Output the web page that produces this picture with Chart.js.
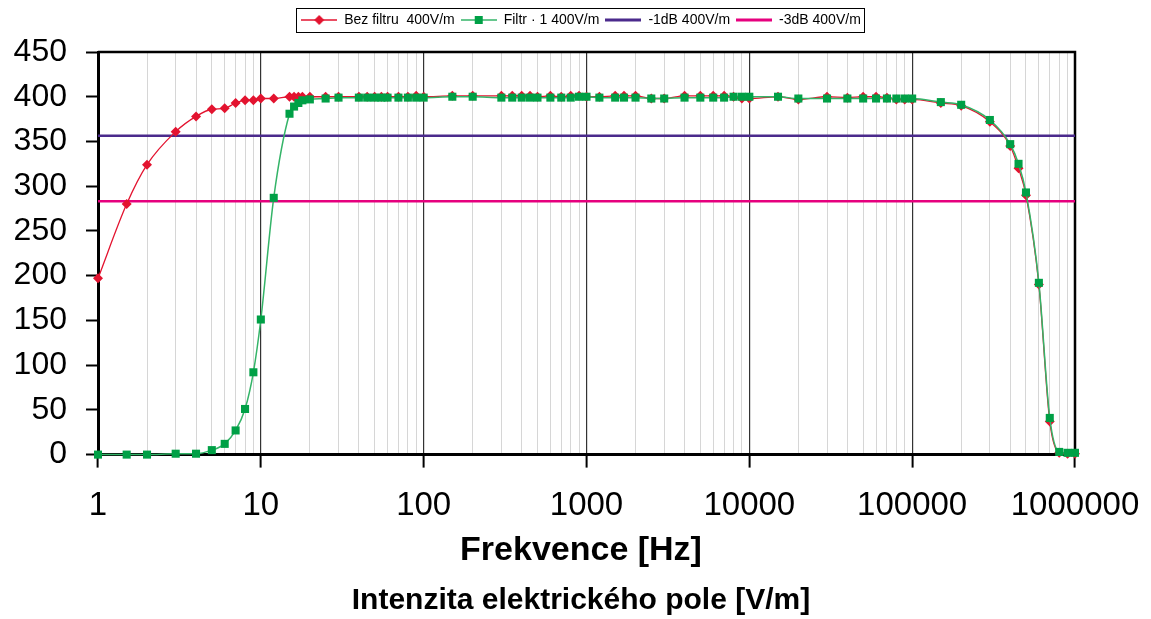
<!DOCTYPE html>
<html>
<head>
<meta charset="utf-8">
<script src="https://cdn.jsdelivr.net/npm/chart.js@4.4.1/dist/chart.umd.min.js"></script>
<style>
   body { margin: 0; background: #fff; }
   #wrap { width: 1151px; height: 619px; }
</style>
</head>
<body>
<div id="wrap"><canvas id="graf"></canvas></div>
<script>
// frekvence [Hz] a namerene hodnoty [V/m]
const freqHz = [1, 1.5, 2, 3, 4, 5, 6, 7, 8, 9, 10, 12, 15, 16, 17, 18, 20, 25, 30, 40, 45, 50, 55, 60, 70, 80, 90, 100,
   150, 200, 300, 350, 400, 450, 500, 600, 700, 800, 900, 1000, 1200, 1500, 1700, 2000, 2500, 3000, 4000, 5000, 6000,
   7000, 8000, 9000, 10000, 15000, 20000, 30000, 40000, 50000, 60000, 70000, 80000, 90000, 100000, 150000, 200000,
   300000, 400000, 450000, 500000, 600000, 700000, 800000, 900000, 1000000];
const bezFiltru = [197, 280, 324, 361, 378, 386, 387, 393, 396, 396, 398, 398, 400, 400, 400, 400, 400, 400, 400, 400, 400, 400, 400, 400, 400, 400, 401, 400,
   401, 401, 401, 401, 401, 401, 400, 401, 400, 401, 401, 400, 400, 401, 401, 401, 398, 398, 401, 401, 401,
   401, 400, 398, 398, 400, 397, 400, 399, 400, 400, 399, 397, 397, 397, 393, 390,
   372, 345, 320, 290, 190, 37, 2, 1, 1];
const filtr1 = [0, 0, 0, 1, 1, 5, 12, 27, 51, 92, 151, 287, 381, 389, 393, 396, 397, 398, 399, 399, 399, 399, 399, 399, 399, 399, 399, 399,
   400, 400, 399, 399, 399, 399, 399, 399, 399, 399, 400, 400, 399, 399, 399, 399, 398, 398, 399, 399, 399,
   399, 400, 400, 400, 400, 398, 398, 398, 398, 398, 398, 398, 398, 398, 394, 391,
   374, 347, 325, 293, 192, 41, 3, 2, 2];
const hraniceHz = [1, 1000000];
const minus1dB = [356.5, 356.5];
const minus3dB = [283.2, 283.2];

const decadeTicks = [1, 10, 100, 1000, 10000, 100000, 1000000];
const minorSteps = [2, 3, 4, 5, 6, 7, 8, 9];
const yTicks = [0, 50, 100, 150, 200, 250, 300, 350, 400, 450];

const FONT = "'Liberation Sans', Arial, sans-serif";
const CERVENA = '#e3132f';
const ZELENA = '#00a046';
const ZELENA_CARA = '#34b468';
const FIALOVA = '#4b2a8c';
const RUZOVA = '#e6007e';

function body(xs, ys) {
   return xs.map((x, i) => ({ x: x, y: ys[i] }));
}

function ikona(barva, znacka, barvaZnacky) {
   const c = document.createElement('canvas');
   c.width = 36; c.height = 12;
   const g = c.getContext('2d');
   g.strokeStyle = barva;
   g.lineWidth = znacka ? 1.5 : 3;
   g.beginPath(); g.moveTo(0, 6); g.lineTo(36, 6); g.stroke();
   g.fillStyle = barvaZnacky;
   if (znacka == 'diamond') {
      g.beginPath(); g.moveTo(18, 1); g.lineTo(23, 6); g.lineTo(18, 11); g.lineTo(13, 6); g.closePath(); g.fill();
   }
   if (znacka == 'square') g.fillRect(14, 2, 8, 8);
   return c;
}

const ikony = [
   ikona(CERVENA, 'diamond', CERVENA),
   ikona(ZELENA_CARA, 'square', ZELENA),
   ikona(FIALOVA),
   ikona(RUZOVA)
];

// ramecek kolem grafu a legendy
const ramecek = {
   id: 'ramecek',
   beforeInit(chart) {
      if (chart.legend) {
         const fit = chart.legend.fit;
         chart.legend.fit = function () {
            fit.call(this);
            this.height += 15;
         };
      }
   },
   beforeDatasetsDraw(chart) {
      const a = chart.chartArea;
      const ctx = chart.ctx;
      ctx.save();
      ctx.strokeStyle = '#000';
      ctx.lineWidth = 2.5;
      ctx.beginPath();
      ctx.moveTo(a.left, a.top);
      ctx.lineTo(a.right, a.top);
      ctx.lineTo(a.right, a.bottom);
      ctx.stroke();
      ctx.restore();
   },
   afterDraw(chart) {
      const boxes = chart.legend && chart.legend.legendHitBoxes;
      if (!boxes || !boxes.length) return;
      const l = Math.min(...boxes.map(b => b.left)) - 5;
      const r = Math.max(...boxes.map(b => b.left + b.width)) + 3;
      const t = Math.min(...boxes.map(b => b.top)) - 5;
      const btm = Math.max(...boxes.map(b => b.top + b.height)) + 5;
      const ctx = chart.ctx;
      ctx.save();
      ctx.strokeStyle = '#000';
      ctx.lineWidth = 1;
      ctx.strokeRect(Math.round(l) + 0.5, Math.round(t) + 0.5, Math.round(r - l), Math.round(btm - t));
      ctx.restore();
   }
};

const ctx = document.getElementById('graf');
new Chart(ctx, {
   type: 'line',
   data: {
      datasets: [{
         label: 'Bez filtru  400V/m',
         data: body(freqHz, bezFiltru),
         borderColor: CERVENA,
         backgroundColor: CERVENA,
         borderWidth: 1.3,
         pointStyle: 'rectRot',
         pointRadius: 5,
         pointBorderWidth: 0,
         pointBackgroundColor: CERVENA,
         cubicInterpolationMode: 'monotone',
         clip: false,
         order: 1
      }, {
         label: 'Filtr · 1 400V/m',
         data: body(freqHz, filtr1),
         borderColor: ZELENA_CARA,
         backgroundColor: ZELENA,
         borderWidth: 1.5,
         pointStyle: 'rect',
         pointRadius: 5.7,
         pointBorderWidth: 0,
         pointBackgroundColor: ZELENA,
         cubicInterpolationMode: 'monotone',
         clip: false,
         order: 0
      }, {
         label: '-1dB 400V/m',
         data: body(hraniceHz, minus1dB),
         borderColor: FIALOVA,
         borderWidth: 2.5,
         pointRadius: 0,
         order: 2
      }, {
         label: '-3dB 400V/m',
         data: body(hraniceHz, minus3dB),
         borderColor: RUZOVA,
         borderWidth: 2.5,
         pointRadius: 0,
         order: 3
      }]
   },
   options: {
      responsive: true,
      maintainAspectRatio: false,
      animation: false,
      layout: {
         padding: { left: 11, right: 0, top: 7, bottom: 0 }
      },
      plugins: {
         tooltip: { enabled: false },
         legend: {
            position: 'top',
            labels: {
               usePointStyle: true,
               pointStyleWidth: 36,
               padding: 6,
               color: '#000',
               font: { family: FONT, size: 14 },
               generateLabels: function (chart) {
                  return chart.data.datasets.map((ds, i) => ({
                     text: ds.label,
                     pointStyle: ikony[i],
                     fillStyle: ds.borderColor,
                     strokeStyle: ds.borderColor,
                     lineWidth: 0,
                     hidden: false,
                     datasetIndex: i
                  }));
               }
            }
         },
         subtitle: {
            display: true,
            position: 'bottom',
            text: 'Frekvence [Hz]',
            color: '#000',
            font: { family: FONT, size: 34, weight: 'bold' },
            padding: { top: -15, bottom: 8 }
         },
         title: {
            display: true,
            position: 'bottom',
            text: 'Intenzita elektrického pole [V/m]',
            color: '#000',
            font: { family: FONT, size: 30, weight: 'bold' },
            padding: { top: 4, bottom: 0 }
         }
      },
      scales: {
         x: {
            type: 'logarithmic',
            min: 1,
            max: 1000000,
            afterBuildTicks: function (scale) {
               const t = [];
               decadeTicks.forEach((d, i) => {
                  t.push({ value: d });
                  if (i < decadeTicks.length - 1) {
                     minorSteps.forEach(m => t.push({ value: d * m }));
                  }
               });
               scale.ticks = t;
            },
            afterFit: function (scale) {
               scale.paddingLeft = 0;
               scale.paddingRight = 0;
            },
            ticks: {
               autoSkip: false,
               maxRotation: 0,
               padding: 19,
               color: '#000',
               font: { family: FONT, size: 33 },
               callback: function (v) {
                  return decadeTicks.includes(v) ? String(v) : '';
               }
            },
            grid: {
               color: c => decadeTicks.includes(c.tick && c.tick.value) ? '#333' : '#d6d6d6',
               lineWidth: c => decadeTicks.includes(c.tick && c.tick.value) ? 1.2 : 1,
               tickColor: c => decadeTicks.includes(c.tick && c.tick.value) ? '#000' : 'rgba(0,0,0,0)',
               tickLength: 13,
               tickWidth: 2
            },
            border: { display: true, color: '#000', width: 3 }
         },
         y: {
            min: 0,
            max: 450,
            afterFit: function (scale) { scale.width = 87; },
            afterBuildTicks: function (scale) {
               scale.ticks = yTicks.map(v => ({ value: v }));
            },
            ticks: {
               padding: 19,
               color: '#000',
               font: { family: FONT, size: 32 }
            },
            grid: {
               drawOnChartArea: false,
               tickLength: 12,
               tickColor: '#000',
               tickWidth: 2
            },
            border: { display: true, color: '#000', width: 3 }
         },
         // prazdna osa vpravo jen kvuli okraji
         y2: {
            position: 'right',
            afterFit: function (scale) { scale.width = 76; },
            ticks: { display: false },
            grid: { display: false, drawTicks: false },
            border: { display: false }
         }
      }
   },
   plugins: [ramecek]
});
</script>
</body>
</html>
